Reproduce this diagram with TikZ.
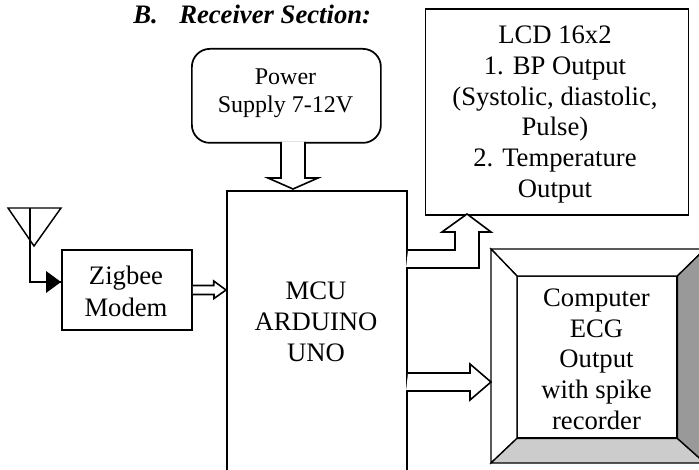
\documentclass[tikz,border=0pt]{standalone}
\usepackage{fontspec}
\setmainfont{Liberation Serif}
\begin{document}
\begin{tikzpicture}[x=0.75pt,y=-0.75pt,
  box/.style={draw=black,line width=1.3pt,align=center,inner sep=0pt,anchor=north west},
  label/.style={align=center,inner sep=0pt},
  hollow/.style={draw=black,fill=white,line width=1.2pt,line join=miter},
  bevel/.style={draw=black,line width=1pt,line join=miter}]
\useasboundingbox (0,0) rectangle (699,470);
\clip (0,0) rectangle (699,470);
\fill[white] (0,0) rectangle (699,470);
% title
\node[inner sep=0pt,anchor=base west,font=\fontsize{20}{22}\selectfont\bfseries\itshape] (titleb) at (133,24) {B.};
\node[inner sep=0pt,anchor=base west,font=\fontsize{20}{22}\selectfont\bfseries\itshape] (titlet) at (179,24) {Receiver Section:};
% blocks
\node[box,rounded corners=13.5pt,minimum width=141.75pt,minimum height=70.5pt] (power) at (191,48) {};
\node[label,font=\fontsize{18}{21}\selectfont] (powerl) at (285.5,93.5) {Power\\Supply 7-12V};
\node[box,line width=1.5pt,minimum width=135pt,minimum height=280pt] (mcu) at (226,190) {};
\node[label,font=\fontsize{20}{23.2}\selectfont] (mcul) at (316,322) {MCU\\ARDUINO\\UNO};
\node[box,minimum width=197.25pt,minimum height=154.5pt] (lcd) at (424.5,8.5) {};
\node[label,font=\fontsize{20}{23}\selectfont] (lcdl) at (555,114.5) {LCD 16x2\\1. BP Output\\(Systolic, diastolic,\\Pulse)\\2. Temperature\\Output};
\node[box,minimum width=97.5pt,minimum height=60pt] (zig) at (61,249) {};
\node[label,font=\fontsize{20}{24}\selectfont] (zigl) at (126,291.5) {Zigbee\\Modem};
% bevel
\coordinate (ol) at (491,249);
\coordinate (or) at (705,249);
\coordinate (ul) at (491,463);
\coordinate (ur) at (705,463);
\node[box,minimum width=119.25pt,minimum height=120.75pt,line width=1pt] (comp) at (517,276) {};
\path[bevel,fill=white] (ol) -- (or) -- (comp.north east) -- (comp.north west) -- cycle;
\path[bevel,fill=white] (ol) -- (comp.north west) -- (comp.south west) -- (ul) -- cycle;
\path[bevel,fill=black!20] (ul) -- (comp.south west) -- (comp.south east) -- (ur) -- cycle;
\path[bevel,fill=black!40] (or) -- (comp.north east) -- (comp.south east) -- (ur) -- cycle;
\node[label,font=\fontsize{20}{23}\selectfont] (compl) at (596.5,359) {Computer\\ECG\\Output\\with spike\\recorder};
% antenna
\coordinate (a1) at (8,208);
\coordinate (a2) at (61,208);
\coordinate (a3) at (34,246);
\coordinate (a4) at (30,208);
\coordinate (a5) at (30,282);
\coordinate (z0) at (zig.west |- a5);
\draw[line width=1.1pt,line join=miter] (a1) -- (a2) -- (a3) -- cycle;
\draw[line width=1.1pt] (a4) -- (a5) -- (z0);
\fill (z0) -- ++(-15,-11) -- ++(0,22) -- cycle;
% hollow arrows
\coordinate (zs) at (zig.east |- 0,290);
\coordinate (zt) at (mcu.west |- 0,290);
\draw[hollow] (zs) ++(0,-4.5) -- ++(21,0) -- ++(0,-4.5) -- (zt) -- ++(-12,8.5) -- ++(0,-4) -- ++(-21,0);
\coordinate (ps) at (293,142);
\coordinate (pt) at (293,189);
\draw[hollow] (ps) ++(-12,0) -- ++(0,36) -- ++(-13,0) -- (pt) -- ++(25,-11) -- ++(-13,0) -- ++(0,-36);
\coordinate (ls) at (mcu.east |- 0,250);
\coordinate (lt) at (467,214);
\draw[hollow] (ls) -- (455,250) -- (455,232) -- (442,232) -- (lt) -- (491,232) -- (479,232) -- (479,268) -- (406,268);
\coordinate (cs) at (mcu.east |- 0,373);
\coordinate (ct) at (ol |- 0,382);
\draw[hollow] (cs) -- (470,373) -- (470,364) -- (ct) -- (470,400) -- (470,391) -- (406,391);
\end{tikzpicture}
\end{document}
